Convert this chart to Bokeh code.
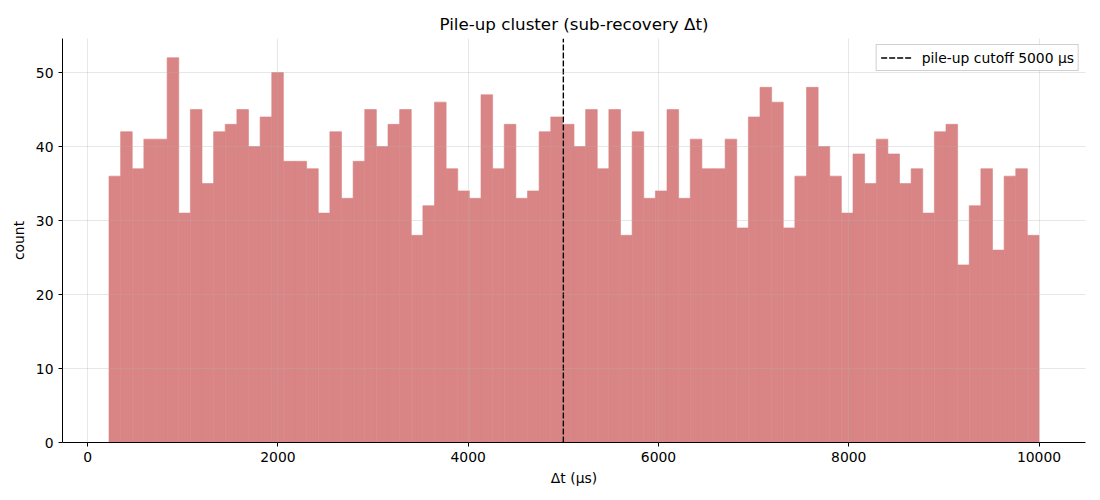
import numpy as np
from bokeh.plotting import figure
from bokeh.models import Range1d, FixedTicker, Legend, LegendItem
from bokeh.embed import file_html
from bokeh.resources import INLINE

counts = [36, 42, 37, 41, 41, 52, 31, 45, 35, 42, 43, 45, 40, 44, 50, 38, 38, 37, 31, 42,
          33, 38, 45, 40, 43, 45, 28, 32, 46, 37, 34, 33, 47, 37, 43, 33, 34, 42, 44, 43, 40,
          45, 37, 45, 28, 42, 33, 34, 45, 33, 41, 37, 37, 41, 29, 44, 48, 46, 29, 36, 48, 40,
          36, 31, 39, 35, 41, 39, 35, 37, 31, 42, 43, 24, 32, 37, 26, 36, 37, 28]
bin_start = 224.0
bin_end = 10000.0
cutoff = 5000
x_ticks = [0, 2000, 4000, 6000, 8000, 10000]
y_ticks = [0, 10, 20, 30, 40, 50]

edges = np.linspace(bin_start, bin_end, len(counts) + 1)
span = bin_end - bin_start
y_top = max(counts) * 1.05

FONT = "DejaVu Sans"
BAR = "#d98585"
FS = "13.9px"

p = figure(width=1092, height=492, output_backend="svg", toolbar_location=None,
           x_range=Range1d(bin_start - 0.05 * span, bin_end + 0.05 * span),
           y_range=Range1d(0, y_top),
           min_border_left=62, min_border_right=7, min_border_top=38, min_border_bottom=50,
           title="Pile-up cluster (sub-recovery Δt)")

p.title.align = "center"
p.title.text_font = FONT
p.title.text_font_size = "16.7px"
p.title.text_font_style = "normal"
p.title.text_color = "black"
p.title.offset = 0

p.quad(left=edges[:-1], right=edges[1:], bottom=0, top=counts,
       fill_color=BAR, fill_alpha=1.0, line_color=BAR, line_width=0.6)

cut = p.segment(x0=[cutoff], y0=[0], x1=[cutoff], y1=[y_top],
                line_color="black", line_dash="6 2", line_width=1.4)

legend = Legend(items=[LegendItem(label="pile-up cutoff 5000 μs", renderers=[cut])],
                location="top_right")
legend.label_text_font = FONT
legend.label_text_font_size = FS
legend.label_text_color = "black"
legend.border_line_color = "#d0d0d0"
legend.border_line_alpha = 1.0
legend.background_fill_alpha = 0.8
legend.padding = 4
legend.margin = 6
legend.glyph_width = 31
legend.glyph_height = 17
legend.label_height = 17
legend.label_standoff = 10
p.add_layout(legend)

p.xaxis.ticker = FixedTicker(ticks=x_ticks)
p.yaxis.ticker = FixedTicker(ticks=y_ticks)
p.xaxis.axis_label = "Δt (μs)"
p.yaxis.axis_label = "count"
for ax in (p.xaxis, p.yaxis):
    ax.axis_label_text_font = FONT
    ax.axis_label_text_font_size = FS
    ax.axis_label_text_font_style = "normal"
    ax.axis_label_text_color = "black"
    ax.major_label_text_font = FONT
    ax.major_label_text_font_size = FS
    ax.major_label_text_color = "black"
    ax.axis_line_color = "black"
    ax.major_tick_line_color = "black"
    ax.major_tick_out = 4
    ax.major_tick_in = 0
    ax.minor_tick_line_color = None
p.xaxis.axis_label_standoff = 5
p.yaxis.axis_label_standoff = 6

p.grid.grid_line_color = "#b0b0b0"
p.grid.grid_line_alpha = 0.3
p.grid.level = "overlay"
p.outline_line_color = None
p.background_fill_color = "white"

open("out.html", "w").write(file_html(p, INLINE))
